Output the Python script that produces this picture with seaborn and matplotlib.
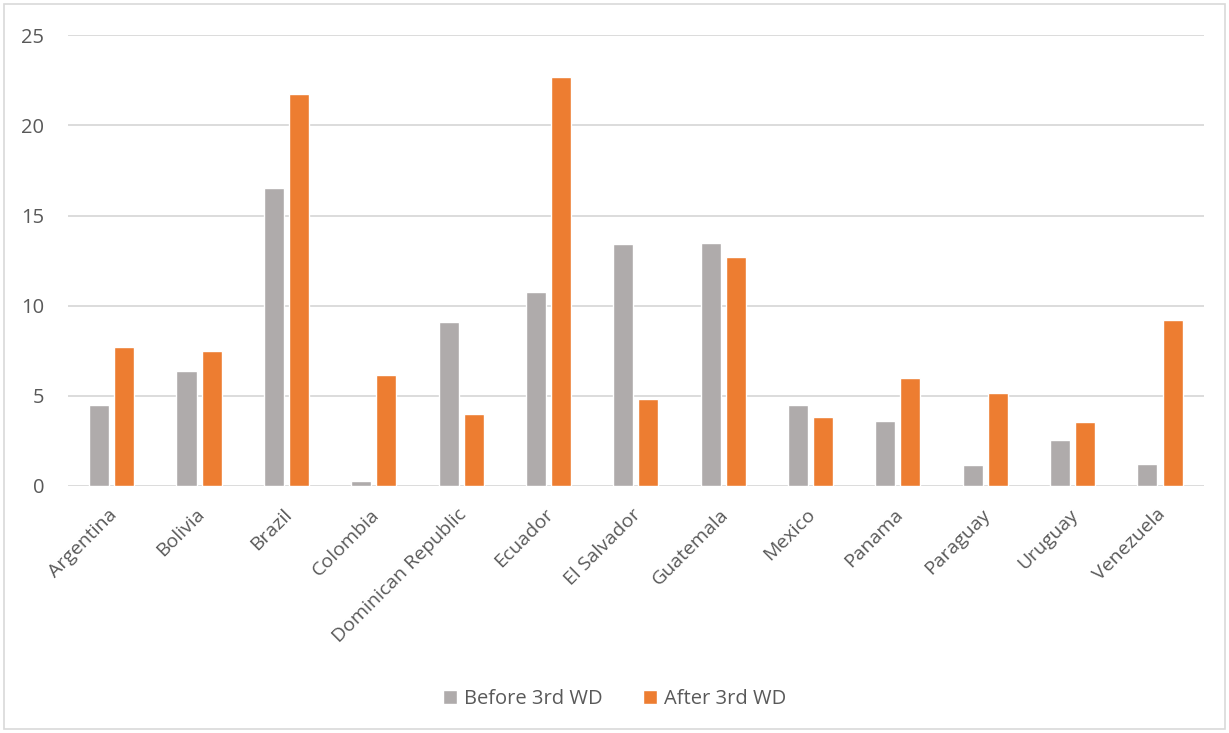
import matplotlib
matplotlib.use("Agg")
import matplotlib.pyplot as plt
import matplotlib.transforms as mtransforms
import seaborn as sns
import pandas as pd
from matplotlib.patches import Rectangle

countries = ["Argentina", "Bolivia", "Brazil", "Colombia", "Dominican Republic",
             "Ecuador", "El Salvador", "Guatemala", "Mexico", "Panama",
             "Paraguay", "Uruguay", "Venezuela"]
before_3rd_wd = [4.51, 6.36, 16.52, 0.30, 9.09, 10.78, 13.41, 13.45, 4.51, 3.63, 1.16, 2.53, 1.24]
after_3rd_wd = [7.71, 7.51, 21.75, 6.15, 3.99, 22.69, 4.84, 12.72, 3.85, 6.01, 5.16, 3.57, 9.22]
series_names = ["Before 3rd WD", "After 3rd WD"]
yticks = [0, 5, 10, 15, 20, 25]

df = pd.DataFrame({
    "country": countries * 2,
    "series": [series_names[0]] * len(countries) + [series_names[1]] * len(countries),
    "value": before_3rd_wd + after_3rd_wd,
})

sns.set_theme(style="white")
plt.rcParams["font.family"] = ["Open Sans", "DejaVu Sans"]

text_color = "#595959"
grid_color = "#d9d9d9"
palette = {series_names[0]: "#AFABAB", series_names[1]: "#ED7D31"}
fs = 14.5

fig = plt.figure(figsize=(12.29, 7.33), dpi=100)
ax = fig.add_axes([0.0553, 0.337, 0.9241, 0.615])

sns.barplot(data=df, x="country", y="value", hue="series", order=countries,
            hue_order=series_names, palette=palette, width=0.573, gap=0.2,
            saturation=1, ax=ax, zorder=3, legend=True)

ax.set_ylim(0, 25)
ax.set_yticks(yticks)
ax.set_xlim(-0.5, len(countries) - 0.5)
ax.grid(axis="y", color=grid_color, linewidth=1.3, zorder=0)
ax.set_axisbelow(True)
for s in ax.spines.values():
    s.set_visible(False)
ax.tick_params(axis="both", length=0, colors=text_color, labelsize=fs)
ax.tick_params(axis="y", pad=17)
ax.set_xlabel("")
ax.set_ylabel("")
ax.set_xticks(range(len(countries)))
ax.set_xticklabels(countries, rotation=45, ha="right", rotation_mode="anchor",
                   color=text_color, fontsize=14)
ax.tick_params(axis="x", pad=14)
shift = mtransforms.ScaledTranslation(-4 / 100, 0, fig.dpi_scale_trans)
for lbl in ax.get_xticklabels():
    lbl.set_transform(lbl.get_transform() + shift)

leg = ax.legend(loc="center", bbox_to_anchor=(0.5, 0.046), bbox_transform=fig.transFigure,
                ncol=2, frameon=False, fontsize=fs, handlelength=0.7, handleheight=0.7,
                handletextpad=0.35, columnspacing=2.0)
for t in leg.get_texts():
    t.set_color(text_color)

fig.patches.append(Rectangle((0.003, 0.005), 0.994, 0.989, transform=fig.transFigure,
                             fill=False, edgecolor="#d9d9d9", linewidth=1.2))

fig.savefig("out.png", dpi=100, facecolor="white")
